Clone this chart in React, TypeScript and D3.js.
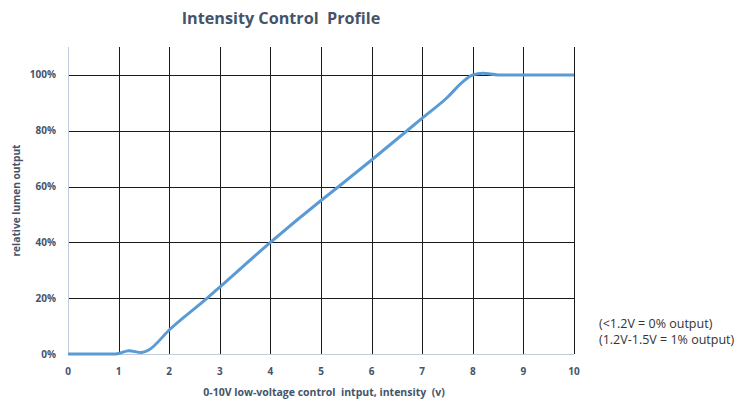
import React from 'react';
import * as d3 from 'd3';

// Data
const voltage = [0, 0.5, 0.9, 1, 1.2, 1.45, 1.6, 2, 2.75, 3, 4, 5, 5.35, 6, 6.7, 7, 7.5, 7.8, 8, 8.2, 8.5, 9, 10];
const output = [0, 0, 0, 0.2, 1.2, 0.5, 1.5, 8.6, 20, 24, 40, 55, 60, 69.5, 80, 84.5, 92, 97.5, 100, 100.6, 100, 100, 100];
const xTicks = [0, 1, 2, 3, 4, 5, 6, 7, 8, 9, 10];
const yTicks = [0, 20, 40, 60, 80, 100];
const notes = ['(<1.2V = 0% output)', '(1.2V-1.5V = 1% output)'];

const W = 754;
const H = 400;
const margin = { left: 68, right: 180, top: 47, bottom: 46 };
const font = "'Open Sans', 'DejaVu Sans', sans-serif";
const labelColor = '#44546A';

export default function App() {
  const x = d3.scaleLinear().domain([0, 10]).range([margin.left, W - margin.right]);
  const y = d3.scaleLinear().domain([0, 110]).range([H - margin.bottom, margin.top]);

  const points = voltage.map((v, i) => ({ v, o: output[i] }));
  const line = d3
    .line<{ v: number; o: number }>()
    .x(d => x(d.v))
    .y(d => y(d.o))
    .curve(d3.curveMonotoneX);

  return (
    <svg
      width={W}
      height={H}
      style={{ position: 'absolute', left: 0, top: 0, background: '#fff' }}
    >
      <text
        x={281}
        y={24}
        textAnchor="middle"
        fontFamily={font}
        fontWeight="bold"
        fontSize={16.2}
        fill={labelColor}
        style={{ whiteSpace: 'pre' }}
      >
        Intensity Control  Profile
      </text>

      {/* horizontal gridlines */}
      {yTicks.filter(t => t > 0).map(t => (
        <line
          key={'h' + t}
          x1={x(0)}
          x2={x(10)}
          y1={Math.round(y(t)) + 0.5}
          y2={Math.round(y(t)) + 0.5}
          stroke="#1a1a1a"
          strokeWidth={1}
        />
      ))}
      {/* vertical gridlines */}
      {xTicks.filter(t => t > 0).map(t => (
        <line
          key={'v' + t}
          x1={Math.round(x(t)) + 0.5}
          x2={Math.round(x(t)) + 0.5}
          y1={margin.top}
          y2={y(0)}
          stroke="#1a1a1a"
          strokeWidth={1}
        />
      ))}
      {/* axis lines */}
      <line x1={x(0) + 0.5} x2={x(0) + 0.5} y1={margin.top} y2={y(0)} stroke="#c3cbdc" strokeWidth={1} />
      <line x1={x(0)} x2={x(10)} y1={Math.round(y(0)) + 0.5} y2={Math.round(y(0)) + 0.5} stroke="#c3cbdc" strokeWidth={1} />

      <path d={line(points) || ''} fill="none" stroke="#5B9BD5" strokeWidth={3} strokeLinejoin="round" />

      {/* y tick labels */}
      {yTicks.map(t => (
        <text
          key={'yl' + t}
          x={x(0) - 12}
          y={y(t)}
          dy="0.35em"
          textAnchor="end"
          fontFamily={font}
          fontWeight="bold"
          fontSize={10}
          fill={labelColor}
        >
          {t}%
        </text>
      ))}
      {/* x tick labels */}
      {xTicks.map(t => (
        <text
          key={'xl' + t}
          x={x(t)}
          y={y(0) + 21}
          textAnchor="middle"
          fontFamily={font}
          fontWeight="bold"
          fontSize={10}
          fill={labelColor}
        >
          {t}
        </text>
      ))}

      <text
        x={324}
        y={396}
        textAnchor="middle"
        fontFamily={font}
        fontWeight="bold"
        fontSize={10.5}
        fill={labelColor}
        style={{ whiteSpace: 'pre' }}
      >
        0-10V low-voltage control  intput, intensity  (v)
      </text>
      <text
        transform={`translate(20,${(margin.top + y(0)) / 2}) rotate(-90)`}
        textAnchor="middle"
        fontFamily={font}
        fontWeight="bold"
        fontSize={10.2}
        fill={labelColor}
      >
        relative lumen output
      </text>

      {notes.map((n, i) => (
        <text
          key={n}
          x={599}
          y={328 + i * 16}
          fontFamily={font}
          fontSize={12.5}
          fill="#333"
        >
          {n}
        </text>
      ))}
    </svg>
  );
}
